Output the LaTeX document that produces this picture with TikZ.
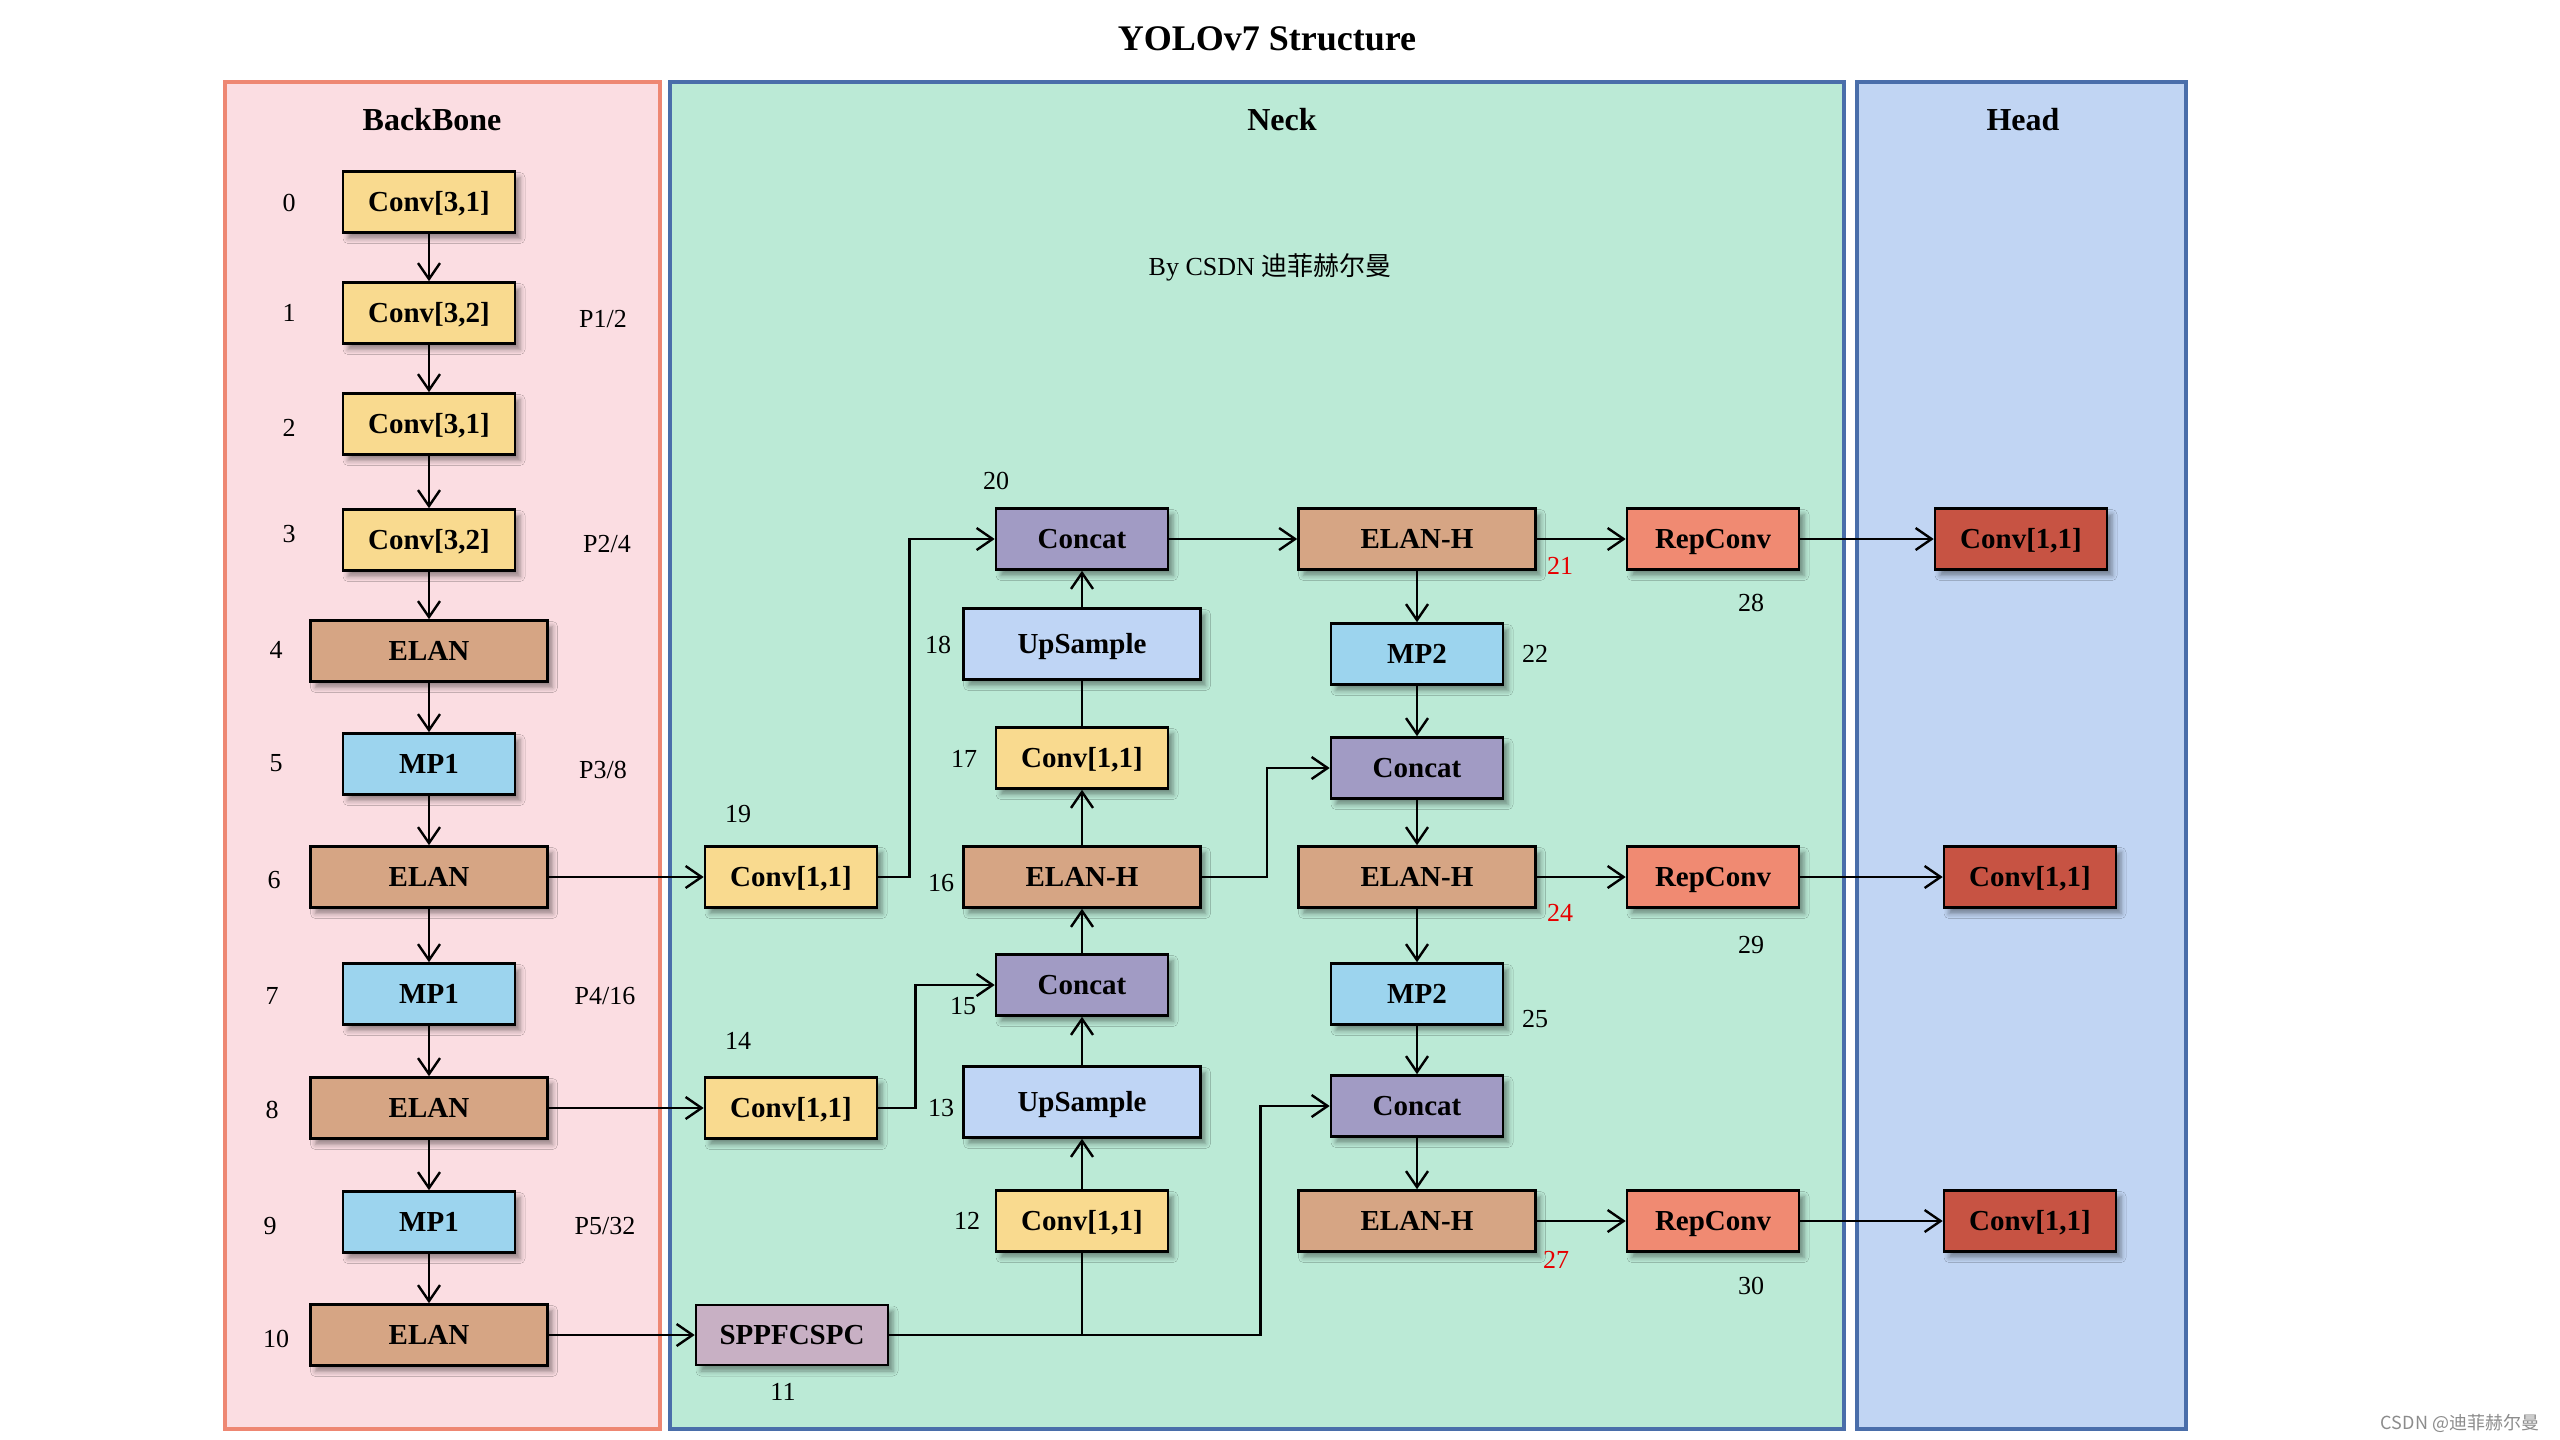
\documentclass[tikz,border=0pt]{standalone}
\usepackage{fontspec}
\setmainfont{Liberation Serif}
\newfontfamily\cjk{Noto Sans CJK SC}
\usetikzlibrary{arrows.meta,shadows.blur}
\definecolor{cconv}{HTML}{F9DA8F}
\definecolor{celan}{HTML}{D6A584}
\definecolor{cmp}{HTML}{9CD4EE}
\definecolor{ccat}{HTML}{A19BC4}
\definecolor{cup}{HTML}{BFD5F5}
\definecolor{crep}{HTML}{F08A72}
\definecolor{chead}{HTML}{C75343}
\definecolor{csppf}{HTML}{C8B0C4}
\definecolor{pbb}{HTML}{FBDDE2}
\definecolor{pbbd}{HTML}{EE8773}
\definecolor{pneck}{HTML}{BBEAD6}
\definecolor{pblue}{HTML}{4A6EAA}
\definecolor{phead}{HTML}{C1D5F3}
\definecolor{cred}{HTML}{E60000}
\begin{document}
\begin{tikzpicture}[x=1pt,y=-1pt,
  box/.style={draw=black, line width=2.6pt, inner sep=0pt, minimum height=61pt,
    font=\fontsize{29}{34}\selectfont\bfseries, text height=25pt, text depth=6pt,
    blur shadow={shadow xshift=5pt,shadow yshift=-6pt,shadow blur radius=5pt,shadow opacity=40}},
  narrow/.style={box, minimum width=172pt},
  wide/.style={box, minimum width=237pt},
  convb/.style={narrow, fill=cconv},
  elanb/.style={wide, fill=celan},
  mpb/.style={narrow, fill=cmp},
  catb/.style={narrow, fill=ccat},
  upb/.style={wide, fill=cup, minimum height=71pt},
  repb/.style={narrow, fill=crep},
  headb/.style={narrow, fill=chead},
  sppfb/.style={box, fill=csppf, minimum width=192pt, minimum height=60pt},
  lbl/.style={font=\fontsize{26}{30}\selectfont, inner sep=0pt},
  rlbl/.style={lbl, text=cred},
  ptitle/.style={font=\fontsize{32}{38}\selectfont\bfseries, inner sep=0pt},
  panel/.style={line width=3.5pt},
  arr/.style={line width=2.4pt, -{Straight Barb[length=16pt,width=22pt]}},
  ln/.style={line width=2.4pt}]
\useasboundingbox (0,0) rectangle (2560,1440);
\fill[white] (0,0) rectangle (2560,1440);
% panels
\draw[panel, draw=pbbd, fill=pbb] (225,82) rectangle (660,1429);
\draw[panel, draw=pblue, fill=pneck] (670,82) rectangle (1844,1429);
\draw[panel, draw=pblue, fill=phead] (1857,82) rectangle (2186,1429);
% titles
\node[font=\fontsize{36}{42}\selectfont\bfseries, inner sep=0pt] (title) at (1267,39) {YOLOv7 Structure};
\node[ptitle] (tbb) at (432,120) {BackBone};
\node[ptitle] (tneck) at (1282,120) {Neck};
\node[ptitle] (thead) at (2023,120) {Head};
\node[lbl] (by) at (1270,267) {By CSDN {\cjk 迪菲赫尔曼}};
\node[inner sep=0pt, text=black!45, font=\cjk\fontsize{18}{22}\selectfont] (wm) at (2460,1423) {CSDN @迪菲赫尔曼};
% backbone
\node[convb] (b0) at (429,202) {Conv[3,1]};
\node[convb] (b1) at (429,313) {Conv[3,2]};
\node[convb] (b2) at (429,424) {Conv[3,1]};
\node[convb] (b3) at (429,540) {Conv[3,2]};
\node[elanb] (b4) at (429,651) {ELAN};
\node[mpb] (b5) at (429,764) {MP1};
\node[elanb] (b6) at (429,877) {ELAN};
\node[mpb] (b7) at (429,994) {MP1};
\node[elanb] (b8) at (429,1108) {ELAN};
\node[mpb] (b9) at (429,1222) {MP1};
\node[elanb] (b10) at (429,1335) {ELAN};
\node[lbl] (l0) at (289,203) {0};
\node[lbl] (l1) at (289,313) {1};
\node[lbl] (l2) at (289,428) {2};
\node[lbl] (l3) at (289,534) {3};
\node[lbl] (l4) at (276,650) {4};
\node[lbl] (l5) at (276,763) {5};
\node[lbl] (l6) at (274,880) {6};
\node[lbl] (l7) at (272,996) {7};
\node[lbl] (l8) at (272,1110) {8};
\node[lbl] (l9) at (270,1226) {9};
\node[lbl] (l10) at (276,1339) {10};
\node[lbl] (p1) at (603,319) {P1/2};
\node[lbl] (p2) at (607,544) {P2/4};
\node[lbl] (p3) at (603,770) {P3/8};
\node[lbl] (p4) at (605,996) {P4/16};
\node[lbl] (p5) at (605,1226) {P5/32};
% neck
\node[convb] (n19) at (791,877) {Conv[1,1]};
\node[convb] (n14) at (791,1108) {Conv[1,1]};
\node[sppfb] (n11) at (792,1335) {SPPFCSPC};
\node[catb] (n20) at (1082,539) {Concat};
\node[upb] (n18) at (1082,644) {UpSample};
\node[convb] (n17) at (1082,758) {Conv[1,1]};
\node[elanb] (n16) at (1082,877) {ELAN-H};
\node[catb] (n15) at (1082,985) {Concat};
\node[upb] (n13) at (1082,1102) {UpSample};
\node[convb] (n12) at (1082,1221) {Conv[1,1]};
\node[elanb] (n21) at (1417,539) {ELAN-H};
\node[mpb] (n22) at (1417,654) {MP2};
\node[catb] (n23) at (1417,768) {Concat};
\node[elanb] (n24) at (1417,877) {ELAN-H};
\node[mpb] (n25) at (1417,994) {MP2};
\node[catb] (n26) at (1417,1106) {Concat};
\node[elanb] (n27) at (1417,1221) {ELAN-H};
\node[repb] (n28) at (1713,539) {RepConv};
\node[repb] (n29) at (1713,877) {RepConv};
\node[repb] (n30) at (1713,1221) {RepConv};
% head
\node[headb] (h1) at (2021,539) {Conv[1,1]};
\node[headb] (h2) at (2030,877) {Conv[1,1]};
\node[headb] (h3) at (2030,1221) {Conv[1,1]};
% neck labels
\node[lbl] (l19) at (738,814) {19};
\node[lbl] (l14) at (738,1041) {14};
\node[lbl] (l11) at (783,1392) {11};
\node[lbl] (l20) at (996,481) {20};
\node[lbl] (l18) at (938,645) {18};
\node[lbl] (l17) at (964,759) {17};
\node[lbl] (l16) at (941,883) {16};
\node[lbl] (l15) at (963,1006) {15};
\node[lbl] (l13) at (941,1108) {13};
\node[lbl] (l12) at (967,1221) {12};
\node[rlbl] (l21) at (1560,566) {21};
\node[lbl] (l22) at (1535,654) {22};
\node[rlbl] (l24) at (1560,913) {24};
\node[lbl] (l25) at (1535,1019) {25};
\node[rlbl] (l27) at (1556,1260) {27};
\node[lbl] (l28) at (1751,603) {28};
\node[lbl] (l29) at (1751,945) {29};
\node[lbl] (l30) at (1751,1286) {30};
% backbone connectors
\draw[arr] (b0.south) -- (b1.north);
\draw[arr] (b1.south) -- (b2.north);
\draw[arr] (b2.south) -- (b3.north);
\draw[arr] (b3.south) -- (b4.north);
\draw[arr] (b4.south) -- (b5.north);
\draw[arr] (b5.south) -- (b6.north);
\draw[arr] (b6.south) -- (b7.north);
\draw[arr] (b7.south) -- (b8.north);
\draw[arr] (b8.south) -- (b9.north);
\draw[arr] (b9.south) -- (b10.north);
\draw[arr] (b6.east) -- (n19.west);
\draw[arr] (b8.east) -- (n14.west);
\draw[arr] (b10.east) -- (n11.west);
% neck connectors
\draw[arr] (n19.east) -- ++(31,0) |- (n20.west);
\draw[arr] (n14.east) -- ++(37,0) |- (n15.west);
\draw[arr] (n16.east) -- ++(65,0) |- (n23.west);
\draw[arr] (n11.east) -- ++(371,0) |- (n26.west);
\draw[ln] (n12.south) -- (n12.south |- n11.east);
\draw[arr] (n12.north) -- (n13.south);
\draw[arr] (n13.north) -- (n15.south);
\draw[arr] (n15.north) -- (n16.south);
\draw[arr] (n16.north) -- (n17.south);
\draw[ln] (n17.north) -- (n18.south);
\draw[arr] (n18.north) -- (n20.south);
\draw[arr] (n20.east) -- (n21.west);
\draw[arr] (n21.south) -- (n22.north);
\draw[arr] (n22.south) -- (n23.north);
\draw[arr] (n23.south) -- (n24.north);
\draw[arr] (n24.south) -- (n25.north);
\draw[arr] (n25.south) -- (n26.north);
\draw[arr] (n26.south) -- (n27.north);
\draw[arr] (n21.east) -- (n28.west);
\draw[arr] (n24.east) -- (n29.west);
\draw[arr] (n27.east) -- (n30.west);
\draw[arr] (n28.east) -- (h1.west);
\draw[arr] (n29.east) -- (h2.west);
\draw[arr] (n30.east) -- (h3.west);
\end{tikzpicture}
\end{document}
